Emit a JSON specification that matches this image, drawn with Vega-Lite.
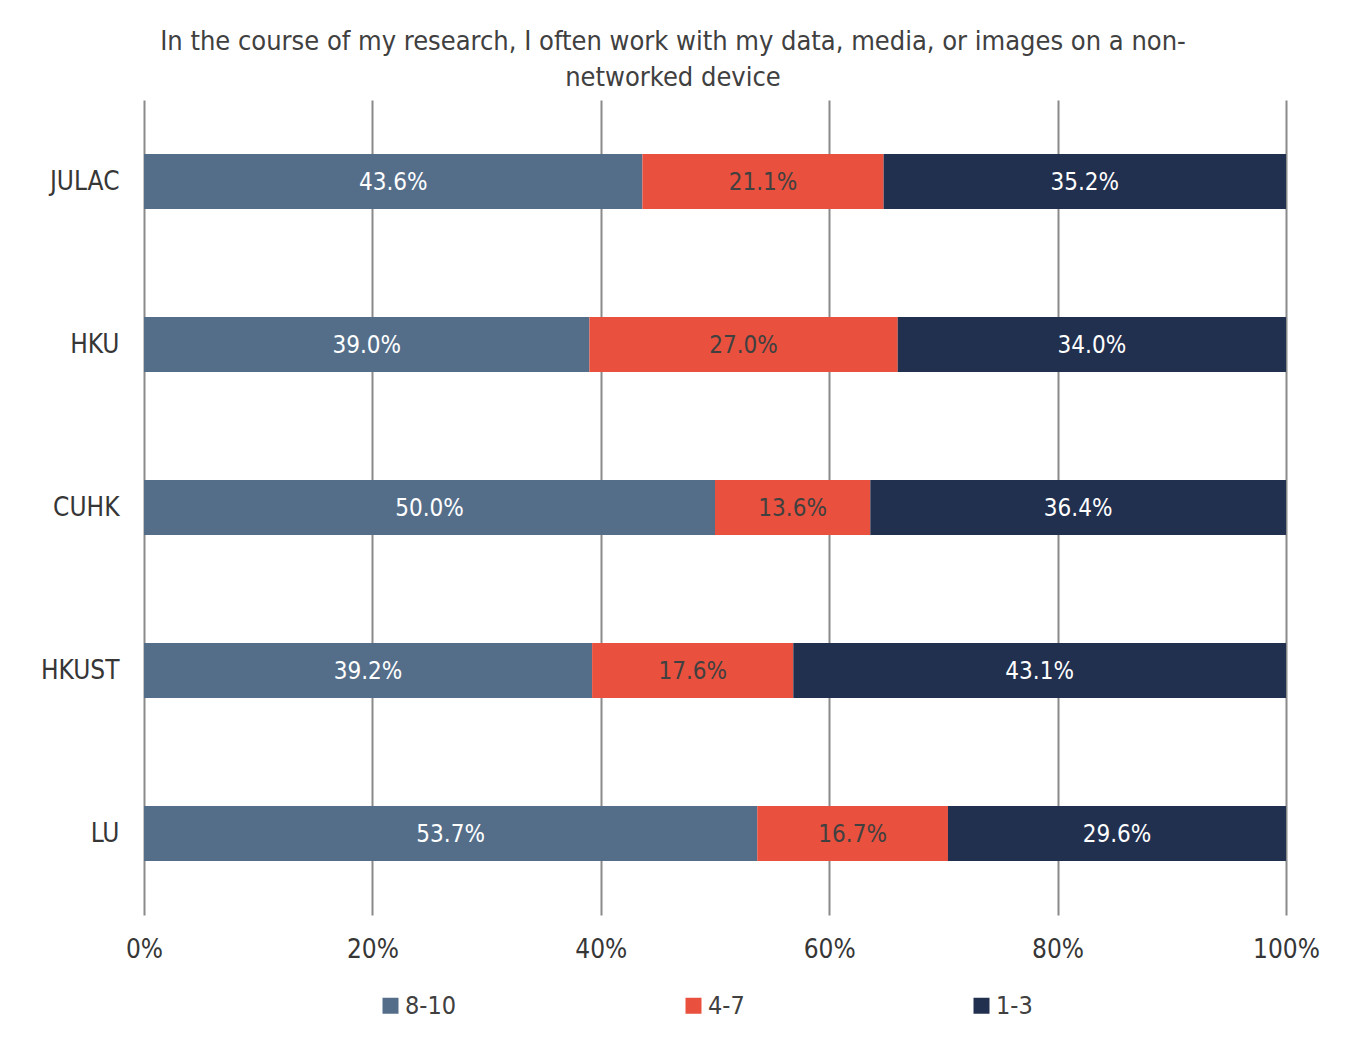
{
  "$schema": "https://vega.github.io/schema/vega-lite/v6.json",
  "width": 1142,
  "height": 815,
  "autosize": {"type": "none"},
  "padding": {"left": 144, "top": 100, "right": 59, "bottom": 123},
  "background": "white",
  "config": {
    "view": {"stroke": null},
    "font": "Liberation Sans Narrow, DejaVu Sans Condensed, Roboto, sans-serif"
  },
  "title": {
    "text": ["In the course of my research, I often work with my data, media, or images on a non-", "networked device"],
    "fontSize": 27,
    "fontWeight": "normal",
    "color": "#404040",
    "anchor": "middle",
    "dx": -42,
    "offset": 8,
    "lineHeight": 36
  },
  "data": {
    "values": [
      {"inst": "JULAC", "cat": "8-10", "ord": 1, "value": 43.6},
      {"inst": "JULAC", "cat": "4-7", "ord": 2, "value": 21.1},
      {"inst": "JULAC", "cat": "1-3", "ord": 3, "value": 35.2},
      {"inst": "HKU", "cat": "8-10", "ord": 1, "value": 39.0},
      {"inst": "HKU", "cat": "4-7", "ord": 2, "value": 27.0},
      {"inst": "HKU", "cat": "1-3", "ord": 3, "value": 34.0},
      {"inst": "CUHK", "cat": "8-10", "ord": 1, "value": 50.0},
      {"inst": "CUHK", "cat": "4-7", "ord": 2, "value": 13.6},
      {"inst": "CUHK", "cat": "1-3", "ord": 3, "value": 36.4},
      {"inst": "HKUST", "cat": "8-10", "ord": 1, "value": 39.2},
      {"inst": "HKUST", "cat": "4-7", "ord": 2, "value": 17.6},
      {"inst": "HKUST", "cat": "1-3", "ord": 3, "value": 43.1},
      {"inst": "LU", "cat": "8-10", "ord": 1, "value": 53.7},
      {"inst": "LU", "cat": "4-7", "ord": 2, "value": 16.7},
      {"inst": "LU", "cat": "1-3", "ord": 3, "value": 29.6}
    ]
  },
  "encoding": {
    "y": {
      "field": "inst",
      "type": "nominal",
      "sort": ["JULAC", "HKU", "CUHK", "HKUST", "LU"],
      "scale": {"paddingInner": 0.663, "paddingOuter": 0.3315},
      "axis": {
        "title": null,
        "domain": false,
        "ticks": false,
        "labelPadding": 25,
        "labelFontSize": 26,
        "labelColor": "#363636",
        "labelFontWeight": "normal"
      }
    }
  },
  "layer": [
    {
      "mark": {"type": "bar"},
      "encoding": {
        "x": {
          "field": "value",
          "type": "quantitative",
          "stack": "normalize",
          "scale": {"domain": [0, 1]},
          "axis": {
            "title": null,
            "values": [0, 0.2, 0.4, 0.6, 0.8, 1],
            "format": ".0%",
            "domain": false,
            "ticks": false,
            "grid": true,
            "gridColor": "#8a8a8a",
            "gridWidth": 2,
            "labelPadding": 21,
            "labelFontSize": 26,
            "labelColor": "#363636",
            "labelFontWeight": "normal",
            "labelFlush": false
          }
        },
        "order": {"field": "ord", "type": "quantitative"},
        "color": {
          "field": "cat",
          "type": "nominal",
          "scale": {"domain": ["8-10", "4-7", "1-3"], "range": ["#546E8A", "#E9503E", "#22304F"]},
          "legend": {
            "title": null,
            "orient": "none",
            "direction": "horizontal",
            "legendX": 234,
            "legendY": 893,
            "symbolType": "square",
            "symbolSize": 256,
            "symbolStrokeWidth": 0,
            "labelFontSize": 25,
            "labelColor": "#404040",
            "labelOffset": 2,
            "columnPadding": 224
          }
        }
      }
    },
    {
      "transform": [
        {"stack": "value", "groupby": ["inst"], "sort": [{"field": "ord", "order": "ascending"}], "offset": "normalize", "as": ["x0", "x1"]},
        {"calculate": "(datum.x0 + datum.x1) / 2", "as": "mid"},
        {"calculate": "format(datum.value, '.1f') + '%'", "as": "label"}
      ],
      "mark": {"type": "text", "fontSize": 24, "baseline": "middle", "align": "center", "dy": 1},
      "encoding": {
        "x": {"field": "mid", "type": "quantitative"},
        "text": {"field": "label", "type": "nominal"},
        "fill": {
          "condition": {"test": "datum.cat === '4-7'", "value": "#404040"},
          "value": "white"
        }
      }
    }
  ]
}
